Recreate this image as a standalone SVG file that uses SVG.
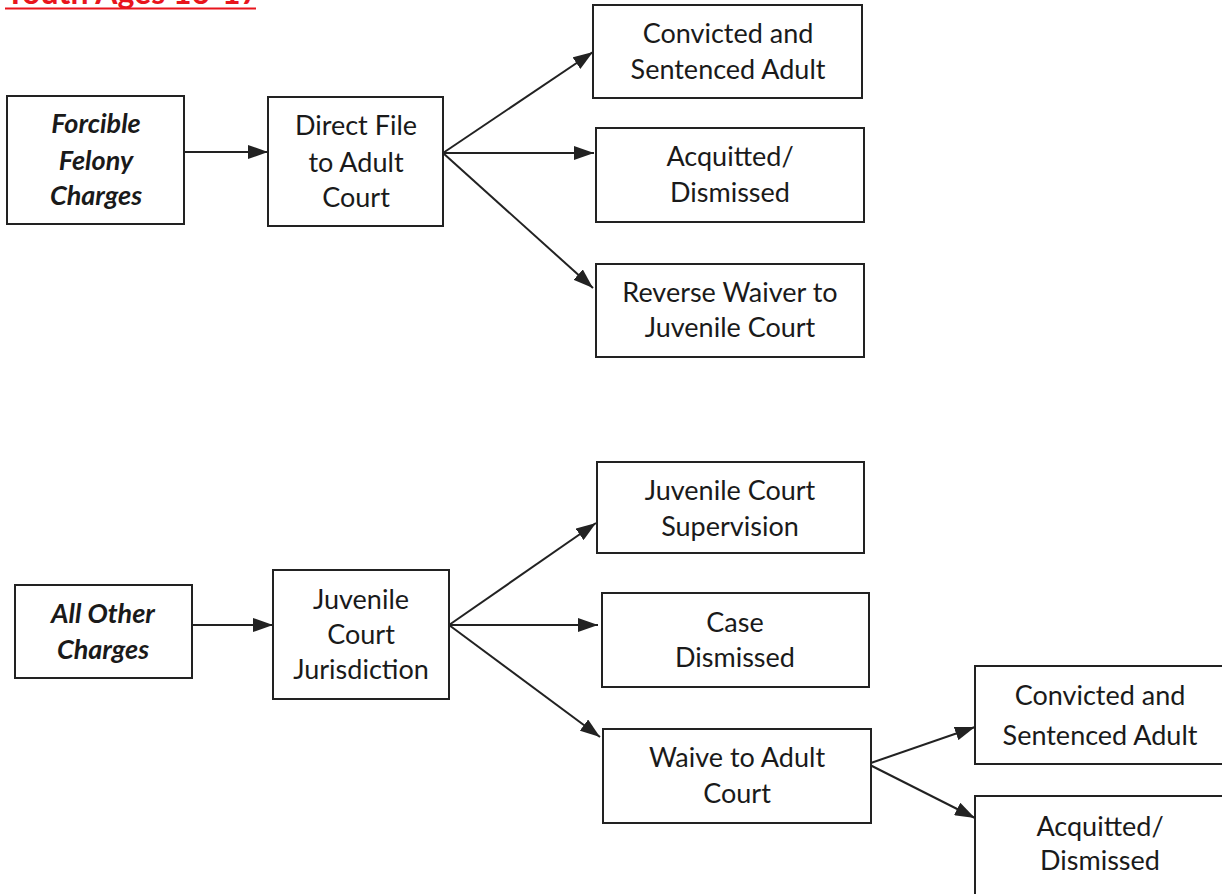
<svg xmlns="http://www.w3.org/2000/svg" width="1222" height="894" viewBox="0 0 1222 894">
<style>
.box{fill:#fff;stroke:#222;stroke-width:2}
.t{font-family:Lato,"Liberation Sans",sans-serif;font-size:27px;fill:#1a1a1a;text-anchor:middle}
.bi{font-weight:bold;font-style:italic}
.c{stroke:#222;stroke-width:2;fill:none;marker-end:url(#ah)}
.title{font-family:Lato,"Liberation Sans",sans-serif;font-size:32px;font-weight:bold;fill:#e8141c}
</style>
<defs>
<marker id="ah" markerUnits="userSpaceOnUse" markerWidth="20" markerHeight="14" refX="20" refY="7" orient="auto">
<path d="M0,0 L20,7 L0,14 z" fill="#222"/>
</marker>
</defs>
<rect width="1222" height="894" fill="#fff"/>
<g id="title">
<text class="title" x="5" y="4">Youth Ages 16-17</text>
<line x1="5" y1="8.5" x2="256" y2="8.5" stroke="#e8141c" stroke-width="2"/>
</g>
<g id="connectors">
<line class="c" x1="184" y1="152" x2="268" y2="152"/>
<line class="c" x1="443" y1="153" x2="593" y2="52"/>
<line class="c" x1="443" y1="153" x2="594" y2="153"/>
<line class="c" x1="443" y1="153" x2="593" y2="288"/>
<line class="c" x1="192" y1="625" x2="273" y2="625"/>
<line class="c" x1="449" y1="625" x2="596" y2="523"/>
<line class="c" x1="449" y1="625" x2="598" y2="625"/>
<line class="c" x1="449" y1="625" x2="600" y2="737"/>
<line class="c" x1="868" y1="764" x2="975" y2="727"/>
<line class="c" x1="868" y1="764" x2="975" y2="818"/>
</g>
<g id="forcible">
<rect class="box" x="7" y="96" width="177" height="128"/>
<text class="t bi" x="96" y="133">Forcible</text>
<text class="t bi" x="96" y="170">Felony</text>
<text class="t bi" x="96" y="205">Charges</text>
</g>
<g id="directfile">
<rect class="box" x="268" y="97" width="175" height="129"/>
<text class="t" x="356" y="135">Direct File</text>
<text class="t" x="356" y="172">to Adult</text>
<text class="t" x="356" y="207">Court</text>
</g>
<g id="convicted1">
<rect class="box" x="593" y="5" width="269" height="93"/>
<text class="t" x="728" y="43">Convicted and</text>
<text class="t" x="728" y="79">Sentenced Adult</text>
</g>
<g id="acquitted1">
<rect class="box" x="596" y="128" width="268" height="94"/>
<text class="t" x="730" y="166">Acquitted/</text>
<text class="t" x="730" y="202">Dismissed</text>
</g>
<g id="reverse">
<rect class="box" x="596" y="264" width="268" height="93"/>
<text class="t" x="730" y="302">Reverse Waiver to</text>
<text class="t" x="730" y="337">Juvenile Court</text>
</g>
<g id="allother">
<rect class="box" x="15" y="585" width="177" height="93"/>
<text class="t bi" x="103" y="623">All Other</text>
<text class="t bi" x="103" y="659">Charges</text>
</g>
<g id="juvjur">
<rect class="box" x="273" y="570" width="176" height="129"/>
<text class="t" x="361" y="609">Juvenile</text>
<text class="t" x="361" y="644">Court</text>
<text class="t" x="361" y="679">Jurisdiction</text>
</g>
<g id="juvsup">
<rect class="box" x="597" y="462" width="267" height="91"/>
<text class="t" x="730" y="500">Juvenile Court</text>
<text class="t" x="730" y="536">Supervision</text>
</g>
<g id="casedismissed">
<rect class="box" x="602" y="593" width="267" height="94"/>
<text class="t" x="735" y="632">Case</text>
<text class="t" x="735" y="667">Dismissed</text>
</g>
<g id="waive">
<rect class="box" x="603" y="729" width="268" height="94"/>
<text class="t" x="737" y="767">Waive to Adult</text>
<text class="t" x="737" y="803">Court</text>
</g>
<g id="convicted2">
<rect class="box" x="975" y="666" width="250" height="98"/>
<text class="t" x="1100" y="705">Convicted and</text>
<text class="t" x="1100" y="745">Sentenced Adult</text>
</g>
<g id="acquitted2">
<rect class="box" x="975" y="796" width="250" height="110"/>
<text class="t" x="1100" y="836">Acquitted/</text>
<text class="t" x="1100" y="870">Dismissed</text>
</g>
</svg>
